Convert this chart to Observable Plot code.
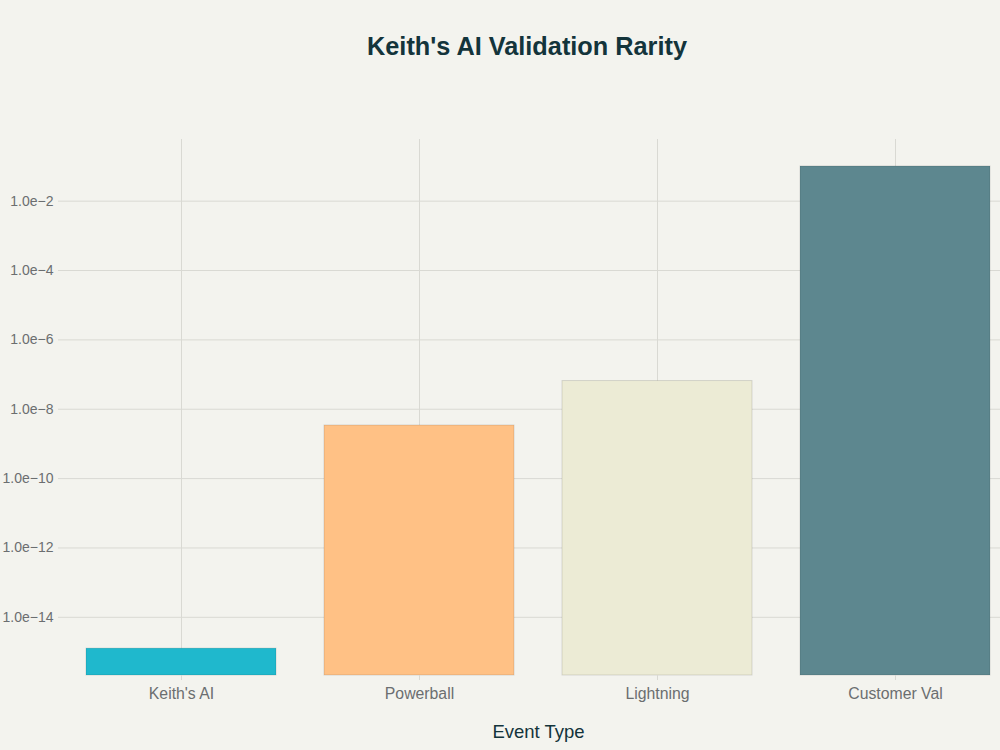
<!DOCTYPE html>
<html>
<head>
<meta charset="utf-8">
<script src="https://cdn.jsdelivr.net/npm/d3@7"></script>
<script src="https://cdn.jsdelivr.net/npm/@observablehq/plot@0.6"></script>
<style>
  html, body { margin: 0; padding: 0; background: #F3F3EE; }
  body { width: 1000px; height: 750px; overflow: hidden; font-family: "Liberation Sans", Arial, sans-serif; }
  #title { height: 100px; width: 1000px; box-sizing: border-box; padding-left: 54px; text-align: center;
           font-size: 25.3px; font-weight: bold; color: #13343B; line-height: 92px; }
  #chart svg { display: block; }
</style>
</head>
<body>
<div id="title">Keith's AI Validation Rarity</div>
<div id="chart"></div>
<script>
const categories = ["Keith's AI", "Powerball", "Lightning", "Customer Val"];
const values = [1.25e-15, 3.4e-9, 6.5e-8, 0.1];
const colors = ["#1FB8CD", "#FFC185", "#ECEBD5", "#5D878F"];
const yTicks = [1e-14, 1e-12, 1e-10, 1e-8, 1e-6, 1e-4, 1e-2];
const xTitle = "Event Type";

const yMin = 2.1e-16, yMax = 0.6;
const data = categories.map((c, i) => ({category: c, value: values[i]}));
const fmt = d => d.toExponential(1).replace("-", "\u2212");

const chart = Plot.plot({
  width: 1000,
  height: 650,
  marginTop: 39,
  marginBottom: 75,
  marginLeft: 62,
  marginRight: -14,
  style: {background: "transparent", fontFamily: "'Liberation Sans', Arial, sans-serif", fontSize: "14px", overflow: "visible"},
  x: {domain: categories, paddingInner: 0.2, paddingOuter: 0.1},
  y: {type: "log", domain: [yMin, yMax]},
  color: {domain: categories, range: colors},
  marks: [
    Plot.gridY(yTicks, {stroke: "#D9D9D3", strokeOpacity: 1, strokeWidth: 1}),
    Plot.gridX(categories, {stroke: "#D9D9D3", strokeOpacity: 1, strokeWidth: 1}),
    Plot.barY(data, {x: "category", y1: yMin, y2: "value", fill: "category", stroke: "#000", strokeOpacity: 0.12, strokeWidth: 1, inset: 0}),
    Plot.axisY(yTicks, {tickFormat: fmt, tickSize: 4, tickPadding: 5, stroke: "#D9D9D3", strokeOpacity: 1, color: "#6B6E70", label: null, fontSize: 14}),
    Plot.axisX(categories, {tickSize: 5, tickPadding: 7, stroke: "#D9D9D3", strokeOpacity: 1, color: "#6B6E70", label: null, fontSize: 15.8}),
    Plot.text([xTitle], {frameAnchor: "bottom", dy: 62, fontSize: 18.5, fill: "#13343B", text: d => d})
  ]
});
document.getElementById("chart").appendChild(chart);
</script>
</body>
</html>
